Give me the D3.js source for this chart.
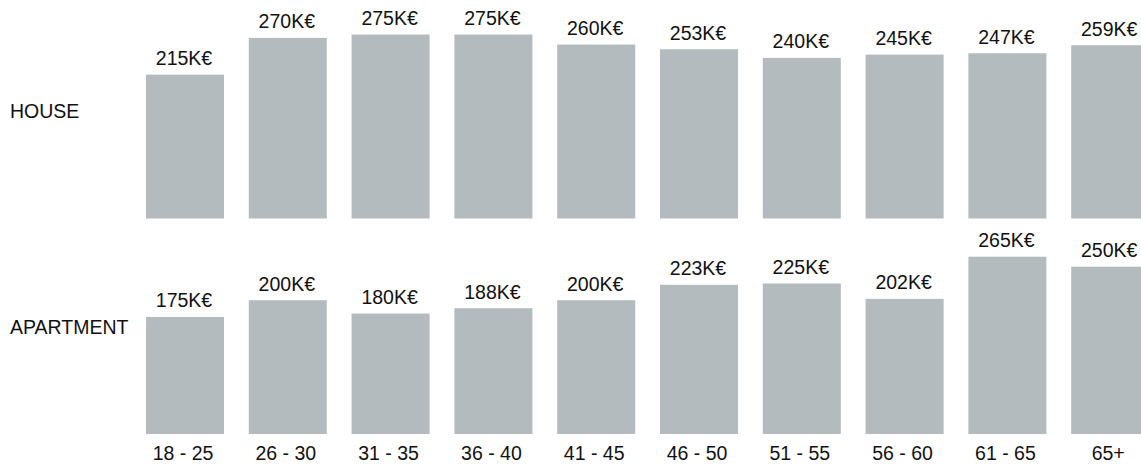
<!DOCTYPE html>
<html>
<head>
<meta charset="utf-8">
<script src="https://cdn.jsdelivr.net/npm/d3@7"></script>
<style>
  html, body { margin: 0; padding: 0; background: #fff; overflow: hidden; }
  svg { display: block; font-family: Arial, "Liberation Sans", sans-serif; }
</style>
</head>
<body>
<svg id="chart" width="1141" height="466"></svg>
<script>
// Median purchase price (K€) by buyer age group, per property type
const ageGroups = ["18 - 25", "26 - 30", "31 - 35", "36 - 40", "41 - 45",
                   "46 - 50", "51 - 55", "56 - 60", "61 - 65", "65+"];
const propertyTypes = ["HOUSE", "APARTMENT"];
const houseValues = [215, 270, 275, 275, 260, 253, 240, 245, 247, 259];
const apartmentValues = [175, 200, 180, 188, 200, 223, 225, 202, 265, 250];

const seriesByType = { HOUSE: houseValues, APARTMENT: apartmentValues };

const width = 1141, height = 466;
const svg = d3.select("#chart");

const fontSize = 19.5;
const barColor = "#b4bbbe";
const textColor = "#111";

// Horizontal placement of the age-group columns
const pad = 0.241;
const x = d3.scaleBand()
  .domain(ageGroups)
  .range([121.2, 1174])
  .paddingInner(pad)
  .paddingOuter(pad);

// Baseline of each property-type row
const rowBase = d3.scalePoint()
  .domain(propertyTypes)
  .range([218.5, 434]);

// Bar height scale (shared by both rows)
const h = d3.scaleLinear().domain([0, 300]).range([0, 200.7]);

const rows = svg.selectAll("g.row")
  .data(propertyTypes)
  .join("g")
  .attr("class", "row")
  .attr("transform", t => `translate(0,${rowBase(t)})`);

// Row title on the left
rows.append("text")
  .attr("x", 10)
  .attr("y", -100.5)
  .attr("font-size", fontSize)
  .attr("fill", textColor)
  .text(t => t);

rows.each(function (t) {
  const g = d3.select(this);
  const data = ageGroups.map((a, i) => ({ age: a, value: seriesByType[t][i] }));

  g.selectAll("rect")
    .data(data)
    .join("rect")
    .attr("x", d => x(d.age))
    .attr("y", d => -h(d.value))
    .attr("width", x.bandwidth())
    .attr("height", d => h(d.value))
    .attr("fill", barColor);

  g.selectAll("text.value")
    .data(data)
    .join("text")
    .attr("class", "value")
    .attr("x", d => x(d.age) + x.bandwidth() / 2 - 1)
    .attr("y", d => -h(d.value) - 9.5)
    .attr("text-anchor", "middle")
    .attr("font-size", fontSize)
    .attr("fill", textColor)
    .text(d => d.value + "K€");
});

// Age-group labels beneath the bottom row
svg.append("g")
  .attr("transform", `translate(0,${rowBase("APARTMENT")})`)
  .selectAll("text")
  .data(ageGroups)
  .join("text")
  .attr("x", a => x(a) + x.bandwidth() / 2 - 2)
  .attr("y", 26)
  .attr("text-anchor", "middle")
  .attr("font-size", fontSize)
  .attr("fill", textColor)
  .text(a => a);
</script>
</body>
</html>
